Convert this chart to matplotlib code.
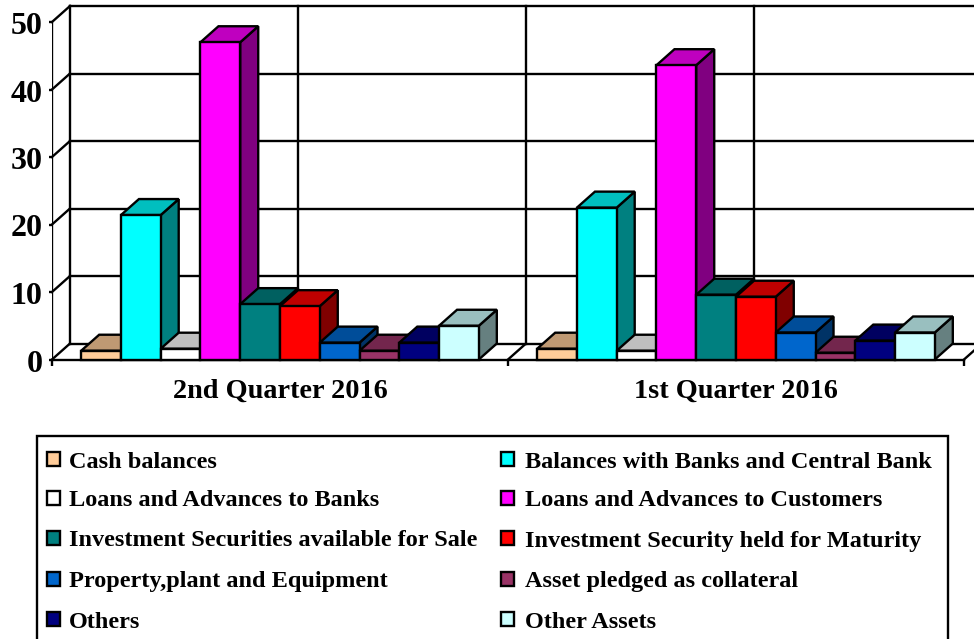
import matplotlib
matplotlib.use("Agg")
from matplotlib import pyplot as plt
from matplotlib.patches import Polygon, Rectangle
from matplotlib.transforms import ScaledTranslation

groups = ["2nd Quarter 2016", "1st Quarter 2016"]
names = ["Cash balances", "Balances with Banks and Central Bank",
         "Loans and Advances to Banks", "Loans and Advances to Customers",
         "Investment Securities available for Sale", "Investment Security held for Maturity",
         "Property,plant and Equipment", "Asset pledged as collateral",
         "Others", "Other Assets"]
q2_values = [1.3, 21.4, 1.6, 47.0, 8.2, 7.9, 2.5, 1.3, 2.5, 5.0]
q1_values = [1.6, 22.5, 1.3, 43.6, 9.6, 9.3, 4.0, 1.0, 2.8, 4.0]
colors = ["#FFCC99", "#00FFFF", "#FFFFFF", "#FF00FF", "#008080",
          "#FF0000", "#0066CC", "#993366", "#000080", "#CCFFFF"]
yticks = [0, 10, 20, 30, 40, 50]

W, H = 974, 639
LW = 1.7
SERIF = "Liberation Serif"

# depth of the fake 3d box, in data units
DX = 18 / 456
DY = 16 / 6.75
BAR_W = 0.0872


def shade(color, f):
    r, g, b = matplotlib.colors.to_rgb(color)
    return (r * f, g * f, b * f)


def draw_bar(ax, x, v, color):
    x2 = x + BAR_W
    side = [(x2, 0), (x2 + DX, DY), (x2 + DX, v + DY), (x2, v)]
    top = [(x, v), (x + DX, v + DY), (x2 + DX, v + DY), (x2, v)]
    ax.add_patch(Polygon(side, fc=shade(color, 0.5), ec="black", lw=LW, clip_on=False, zorder=3))
    ax.add_patch(Polygon(top, fc=shade(color, 0.75), ec="black", lw=LW, clip_on=False, zorder=3))
    ax.add_patch(Rectangle((x, 0), BAR_W, v, fc=color, ec="black", lw=LW, clip_on=False, zorder=3))


fig = plt.figure(figsize=(W / 100, H / 100), dpi=100)
ax = fig.add_axes([52 / W, 1 - 359.5 / H, 912 / W, 337.5 / H])
ax.set_xlim(0, 2)
ax.set_ylim(0, 50)
for s in ax.spines.values():
    s.set_visible(False)

# walls and floor
line = dict(color="black", lw=LW, clip_on=False, zorder=1)
for v in yticks:
    ax.plot([0, DX], [v, v + DY], **line)
    ax.plot([DX, 2 + DX], [v + DY, v + DY], **line)
for x in [0, 0.5, 1, 1.5]:
    ax.plot([x + DX, x + DX], [DY, 50 + DY], **line)
for x in [1, 2]:
    ax.plot([x, x + DX], [0, DY], **line)
ax.plot([0, 0], [0, 50], color="black", lw=LW, zorder=2)
ax.plot([0, 2], [0, 0], color="black", lw=LW, clip_on=False, zorder=2)

for g, values in enumerate([q2_values, q1_values]):
    start = g + (1 - BAR_W * len(values)) / 2
    for i, v in enumerate(values):
        draw_bar(ax, start + i * BAR_W, v, colors[i])

ax.set_yticks(yticks)
ax.set_yticklabels([str(v) for v in yticks], fontfamily=SERIF, fontweight="bold", fontsize=23)
ax.set_xticks([0.5, 1.5])
ax.set_xticklabels(groups, fontfamily=SERIF, fontweight="bold", fontsize=20.3)
ax.set_xticks([0, 1, 2], minor=True)
ax.tick_params(axis="y", length=2, width=LW, pad=5)
ax.tick_params(axis="x", which="major", length=0, pad=14)
ax.tick_params(axis="x", which="minor", length=4, width=LW)

# the y labels sit a bit under their ticks in the original
shift = ScaledTranslation(0, -1 / 100, fig.dpi_scale_trans)
for label in ax.get_yticklabels():
    label.set_transform(label.get_transform() + shift)

# legend in pixel coordinates
leg = fig.add_axes([0, 0, 1, 1], facecolor="none")
leg.set_xlim(0, W)
leg.set_ylim(H, 0)
leg.axis("off")
leg.add_patch(Rectangle((37, 436), 911, 220, fc="white", ec="black", lw=LW))
rows = [460, 499, 539, 580, 620]
for i, name in enumerate(names):
    y = rows[i // 2]
    sx, tx = (47, 69) if i % 2 == 0 else (501, 525)
    leg.add_patch(Rectangle((sx, y - 8), 13, 14, fc=colors[i], ec="black", lw=LW))
    leg.text(tx, y + 2, name, family=SERIF, fontweight="bold", fontsize=17.5, va="center", ha="left")

fig.savefig("out.png", dpi=100)
